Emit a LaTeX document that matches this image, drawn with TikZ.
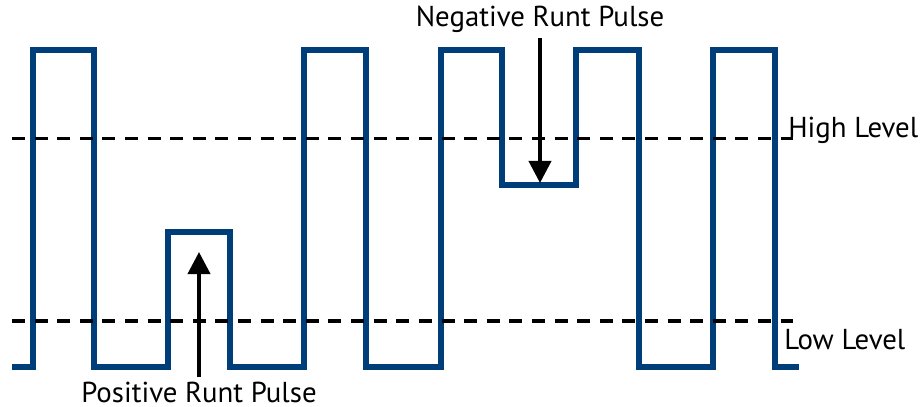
\documentclass[tikz,border=0pt]{standalone}
\usepackage{fontspec}
\setmainfont{PT Sans}
\usepackage{xcolor}
\usepackage{tikz}
\usetikzlibrary{arrows.meta}

\definecolor{waveblue}{RGB}{0,62,122}

\begin{document}
\begin{tikzpicture}[x=0.025cm, y=-0.025cm,
  wave/.style={draw=waveblue, line width=4.3pt},
  level/.style={draw=black, line width=2.8pt, dash pattern=on 0.325cm off 0.24cm},
  pointer/.style={draw=black, line width=2.8pt, -{Triangle[length=0.55cm, width=0.55cm]}},
  lbl/.style={font=\fontsize{20.5}{24}\selectfont, inner sep=0pt}]

  \useasboundingbox (0,0) rectangle (922,407);

  % Signal with the two runt pulses
  \draw[wave] (12,367) -- (33,367) -- (33,50) -- (94,50) -- (94,367)
    -- (168,367) -- (168,232) -- (230,232) -- (230,367)
    -- (304,367) -- (304,50) -- (366,50) -- (366,367)
    -- (441,367) -- (441,50) -- (502,50) -- (502,185) -- (576,185) -- (576,50)
    -- (639,50) -- (639,367) -- (713,367) -- (713,50) -- (775,50) -- (775,367)
    -- (799,367);

  % Threshold levels
  \draw[level] (12,138.5) -- (793,138.5);
  \draw[level] (12,321) -- (793,321);
  \node[lbl, anchor=base west] (high) at (788,137) {High Level};
  \node[lbl, anchor=base west] (low) at (784,349) {Low Level};

  % Runt pulse labels
  \node[lbl, anchor=base] (neglbl) at (540,27) {Negative Runt Pulse};
  \node[lbl, anchor=base] (poslbl) at (199,402) {Positive Runt Pulse};
  \coordinate (negtip) at (540,183);
  \coordinate (postip) at (199,252);

  \draw[pointer, shorten <=0.12cm] (neglbl) -- (negtip);
  \draw[pointer, shorten <=0.1cm] (poslbl) -- (postip);

\end{tikzpicture}
\end{document}
